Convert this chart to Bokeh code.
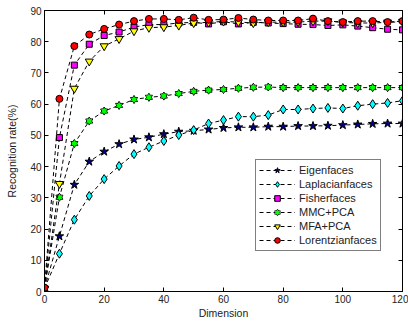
from bokeh.plotting import figure
from bokeh.models import LinearAxis, Legend, LegendItem, FixedTicker, Range1d, CustomJSTickFormatter
from bokeh.embed import file_html
from bokeh.resources import INLINE

dims = [0, 5, 10, 15, 20, 25, 30, 35, 40, 45, 50, 55, 60, 65, 70, 75, 80, 85, 90, 95, 100, 105, 110, 115, 120]

eigenfaces = [1.0, 17.7, 34.2, 41.6, 44.8, 47.2, 48.7, 49.4, 50.4, 51.2, 51.5, 51.9, 52.4,
              52.6, 52.6, 52.8, 52.8, 53.0, 53.0, 53.1, 53.3, 53.5, 53.7, 53.8, 53.8]
laplacianfaces = [1.0, 12.1, 23.0, 30.6, 36.0, 40.2, 44.0, 46.2, 48.2, 50.1, 51.7, 53.8, 54.9,
                  56.0, 56.0, 56.5, 58.3, 58.3, 58.6, 58.8, 58.6, 59.5, 60.0, 60.4, 61.1]
fisherfaces = [1.0, 49.3, 72.5, 79.2, 82.0, 83.1, 84.7, 85.5, 85.5, 86.0, 86.2, 85.7, 86.4,
               85.7, 86.2, 86.0, 85.8, 85.6, 85.5, 85.2, 85.4, 85.0, 84.5, 84.0, 83.8]
mmc_pca = [1.0, 30.2, 47.4, 54.6, 57.8, 59.6, 61.5, 62.2, 62.6, 63.4, 64.1, 64.5, 64.7,
           65.1, 65.4, 65.5, 65.3, 65.3, 65.3, 65.3, 65.3, 65.3, 65.3, 65.3, 65.3]
mfa_pca = [1.0, 34.5, 65.0, 73.7, 78.6, 80.9, 83.4, 84.5, 84.7, 85.2, 86.0, 86.2, 86.5,
           86.3, 86.0, 86.3, 86.2, 86.3, 86.6, 86.6, 86.2, 86.0, 86.0, 86.2, 86.4]
lorentzianfaces = [1.2, 61.7, 78.6, 82.3, 84.1, 85.5, 86.6, 87.3, 87.3, 87.0, 87.7, 87.0, 87.1,
                   87.6, 87.1, 86.8, 86.8, 86.8, 87.4, 86.6, 86.3, 86.6, 86.6, 86.3, 86.6]

labels = ["Eigenfaces", "Laplacianfaces", "Fisherfaces", "MMC+PCA", "MFA+PCA", "Lorentzianfaces"]
x_ticks = [0, 20, 40, 60, 80, 100, 120]
y_ticks = [0, 10, 20, 30, 40, 50, 60, 70, 80, 90]

FONT = "Liberation Sans"

p = figure(width=408, height=321, x_range=Range1d(0, 120), y_range=Range1d(0, 90),
           output_backend="svg", toolbar_location=None,
           min_border_left=44, min_border_right=6, min_border_top=10, min_border_bottom=29)
p.xgrid.visible = False
p.ygrid.visible = False
p.outline_line_color = "black"
p.outline_line_width = 1
p.background_fill_color = "white"

for ax, ticks in ((p.xaxis[0], x_ticks), (p.yaxis[0], y_ticks)):
    ax.ticker = FixedTicker(ticks=ticks)
    ax.major_tick_in = 4
    ax.major_tick_out = 0
    ax.minor_tick_line_color = None
    ax.axis_line_color = "black"
    ax.major_tick_line_color = "black"
    ax.major_label_text_font = FONT
    ax.major_label_text_font_size = "10px"
    ax.major_label_text_color = "#222222"
    ax.axis_label_text_font = FONT
    ax.axis_label_text_font_size = "10.5px"
    ax.axis_label_text_font_style = "normal"
    ax.axis_label_text_color = "#222222"

p.xaxis.axis_label = "Dimension"
p.yaxis.axis_label = "Recognition rate(%)"
p.xaxis.major_label_standoff = 3
p.xaxis.axis_label_standoff = 1
p.yaxis.major_label_standoff = 3
p.yaxis.axis_label_standoff = 9

# mirrored axes (ticks only)
blank = CustomJSTickFormatter(code="return ''")
top = LinearAxis(ticker=FixedTicker(ticks=x_ticks), major_tick_in=4, major_tick_out=0,
                 minor_tick_line_color=None, formatter=blank,
                 major_label_standoff=0, axis_line_color="black")
right = LinearAxis(ticker=FixedTicker(ticks=y_ticks), major_tick_in=4, major_tick_out=0,
                   minor_tick_line_color=None, formatter=blank,
                   major_label_standoff=0, axis_line_color="black")
p.add_layout(top, "above")
p.add_layout(right, "right")

DASH = "4 3"
items = []

def add_series(name, vals, color, marker, size):
    ln = p.line(dims, vals, line_color="black", line_width=1, line_dash=DASH)
    rs = [ln]
    if marker == "hexagram":
        for m in ("triangle", "inverted_triangle"):
            rs.append(p.scatter(dims, vals, marker=m, size=size, fill_color=color,
                                line_color="black", line_width=1))
        for m in ("triangle", "inverted_triangle"):
            rs.append(p.scatter(dims, vals, marker=m, size=size - 1, fill_color=color,
                                line_color=None))
    else:
        rs.append(p.scatter(dims, vals, marker=marker, size=size, fill_color=color,
                            line_color="black", line_width=1))
    items.append(LegendItem(label=name, renderers=rs))

add_series(labels[0], eigenfaces, "#00008B", "star", 9)
add_series(labels[1], laplacianfaces, "#00FFFF", "diamond", 9)
add_series(labels[2], fisherfaces, "#FF00FF", "square", 6)
add_series(labels[3], mmc_pca, "#00FF00", "hexagram", 7)
add_series(labels[4], mfa_pca, "#FFFF00", "inverted_triangle", 8)
add_series(labels[5], lorentzianfaces, "#FF0000", "circle", 7)

legend = Legend(items=items, location=(211, 40))
legend.border_line_color = "black"
legend.border_line_width = 1
legend.background_fill_color = "white"
legend.background_fill_alpha = 1
legend.padding = 3
legend.spacing = 0
legend.margin = 0
legend.label_text_font = FONT
legend.label_text_font_size = "11px"
legend.label_text_color = "#222222"
legend.label_height = 14
legend.glyph_height = 14
legend.glyph_width = 36
legend.label_standoff = 4
p.add_layout(legend)

open("out.html", "w").write(file_html(p, INLINE))
